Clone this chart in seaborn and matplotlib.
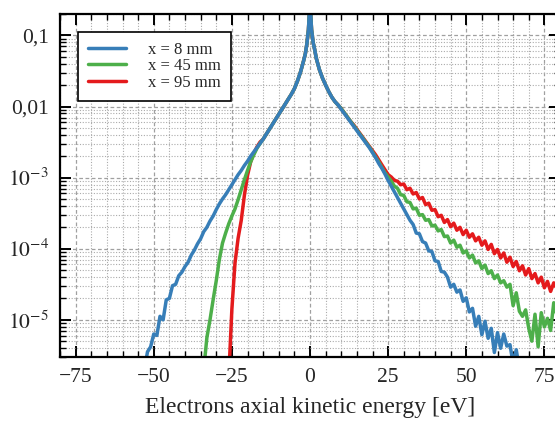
import matplotlib
matplotlib.use("Agg")
import matplotlib.pyplot as plt
from matplotlib.ticker import FixedLocator, FixedFormatter, MultipleLocator, LogLocator, NullFormatter
import numpy as np
import pandas as pd
import seaborn as sns

# Central part of the spectrum, common to the three positions
core_energy = list(range(-15, -2)) + [-2, -1.5, -1, -0.5, -0.25, 0, 0.25, 0.5, 1, 1.5, 2] + list(range(3, 10))
core_density = [3.47e-3, 4.07e-3, 4.79e-3, 5.62e-3, 6.61e-3, 7.76e-3, 9.12e-3, 1.07e-2, 1.26e-2,
                1.48e-2, 1.78e-2, 2.29e-2, 3.09e-2,
                4.47e-2, 5.50e-2, 7.59e-2, 0.120, 0.191, 0.50, 0.191, 0.120, 7.94e-2, 6.31e-2, 4.79e-2,
                3.31e-2, 2.51e-2, 2.00e-2, 1.62e-2, 1.35e-2, 1.17e-2, 1.05e-2]

# x = 8 mm
blue_left_energy = list(range(-53, -15))
blue_left = [2.00e-6, 3.55e-6, 4.17e-6, 6.31e-6, 6.03e-6, 1.12e-5, 1.00e-5, 1.91e-5, 2.00e-5, 3.02e-5,
             3.16e-5, 4.17e-5, 4.68e-5, 5.62e-5, 6.46e-5, 8.13e-5, 9.55e-5, 1.17e-4, 1.38e-4, 1.74e-4,
             2.00e-4, 2.45e-4, 2.88e-4, 3.55e-4, 4.27e-4, 5.01e-4, 5.75e-4, 6.76e-4, 7.94e-4, 9.33e-4,
             1.10e-3, 1.26e-3, 1.48e-3, 1.70e-3, 2.00e-3, 2.29e-3, 2.63e-3, 3.02e-3]
blue_right_energy = list(range(10, 69))
blue_right = [9.12e-3, 7.94e-3, 6.92e-3, 6.03e-3, 5.25e-3, 4.57e-3, 3.98e-3, 3.47e-3, 3.02e-3, 2.63e-3,
              2.24e-3, 1.91e-3, 1.58e-3, 1.35e-3, 1.12e-3, 9.12e-4, 7.59e-4, 6.31e-4, 5.25e-4, 4.37e-4,
              3.63e-4, 3.02e-4, 2.51e-4, 2.19e-4, 1.66e-4, 1.62e-4, 1.26e-4, 1.20e-4, 9.33e-5, 9.12e-5,
              6.76e-5, 6.61e-5, 4.79e-5, 4.68e-5, 3.98e-5, 2.88e-5, 3.16e-5, 2.45e-5, 2.63e-5, 1.82e-5,
              2.04e-5, 1.29e-5, 1.45e-5, 8.13e-6, 1.12e-5, 6.17e-6, 9.55e-6, 5.50e-6, 7.59e-6, 3.47e-6,
              6.61e-6, 3.98e-6, 6.31e-6, 4.27e-6, 4.47e-6, 2.40e-6, 3.80e-6, 2.00e-6, 1.50e-6]

# x = 45 mm
green_left_energy = list(range(-34, -15))
green_left = [2.00e-6, 5.62e-6, 1.00e-5, 1.91e-5, 3.55e-5, 7.08e-5, 1.20e-4, 1.66e-4, 2.24e-4, 2.88e-4,
              3.63e-4, 4.90e-4, 6.76e-4, 9.33e-4, 1.26e-3, 1.66e-3, 2.09e-3, 2.57e-3, 3.02e-3]
green_right_energy = list(range(10, 81))
green_right = [9.33e-3, 8.13e-3, 7.08e-3, 6.17e-3, 5.37e-3, 4.68e-3, 4.07e-3, 3.55e-3, 3.09e-3, 2.69e-3,
               2.29e-3, 1.95e-3, 1.66e-3, 1.38e-3, 1.17e-3, 1.02e-3, 8.91e-4, 7.59e-4, 7.08e-4, 5.75e-4,
               5.62e-4, 4.57e-4, 4.47e-4, 3.63e-4, 3.72e-4, 2.95e-4, 3.02e-4, 2.51e-4, 2.57e-4, 2.09e-4,
               2.14e-4, 1.78e-4, 1.86e-4, 1.48e-4, 1.51e-4, 1.20e-4, 1.32e-4, 1.05e-4, 1.12e-4, 8.71e-5,
               9.33e-5, 7.41e-5, 8.13e-5, 6.31e-5, 6.76e-5, 5.25e-5, 5.89e-5, 4.47e-5, 4.90e-5, 3.80e-5,
               4.27e-5, 3.31e-5, 3.55e-5, 2.88e-5, 3.16e-5, 1.58e-5, 2.40e-5, 1.32e-5, 1.12e-5, 1.38e-5,
               7.59e-6, 5.01e-6, 1.20e-5, 4.17e-6, 1.26e-5, 7.94e-6, 1.05e-5, 7.08e-6, 1.74e-5, 1.12e-5,
               1.51e-5]

# x = 95 mm
red_left_energy = list(range(-26, -15))
red_left = [1.58e-6, 1.41e-5, 6.31e-5, 1.41e-4, 2.51e-4, 5.62e-4, 1.07e-3, 1.66e-3, 2.19e-3, 2.69e-3,
            3.16e-3]
red_right_energy = list(range(10, 81))
red_right = [9.33e-3, 8.13e-3, 7.08e-3, 6.17e-3, 5.50e-3, 4.79e-3, 4.17e-3, 3.63e-3, 3.16e-3, 2.75e-3,
             2.40e-3, 2.09e-3, 1.78e-3, 1.51e-3, 1.29e-3, 1.10e-3, 1.02e-3, 9.12e-4, 8.91e-4, 7.94e-4,
             8.13e-4, 6.76e-4, 7.08e-4, 5.89e-4, 6.17e-4, 5.01e-4, 5.25e-4, 4.17e-4, 4.37e-4, 3.47e-4,
             3.55e-4, 2.82e-4, 2.95e-4, 2.34e-4, 2.57e-4, 2.04e-4, 2.29e-4, 1.82e-4, 2.00e-4, 1.58e-4,
             1.82e-4, 1.45e-4, 1.62e-4, 1.29e-4, 1.45e-4, 1.12e-4, 1.29e-4, 9.77e-5, 1.15e-4, 8.51e-5,
             9.77e-5, 7.41e-5, 8.71e-5, 6.46e-5, 7.59e-5, 5.62e-5, 6.61e-5, 4.90e-5, 5.75e-5, 4.27e-5,
             5.25e-5, 3.80e-5, 4.47e-5, 3.31e-5, 3.98e-5, 2.82e-5, 3.47e-5, 2.51e-5, 3.31e-5, 2.75e-5,
             3.39e-5]

series_labels = ["x = 8 mm", "x = 45 mm", "x = 95 mm"]
x_ticks = [-75, -50, -25, 0, 25, 50, 75]
y_tick_values = [1e-1, 1e-2, 1e-3, 1e-4, 1e-5]
y_tick_labels = ["0,1", "0,01", r"$10^{-3}$", r"$10^{-4}$", r"$10^{-5}$"]

frames = []
for label, le, lv, re, rv in [
    (series_labels[0], blue_left_energy, blue_left, blue_right_energy, blue_right),
    (series_labels[1], green_left_energy, green_left, green_right_energy, green_right),
    (series_labels[2], red_left_energy, red_left, red_right_energy, red_right),
]:
    frames.append(pd.DataFrame({
        "energy": le + core_energy + re,
        "density": lv + core_density + rv,
        "position": label,
    }))
df = pd.concat(frames, ignore_index=True)

sns.set_style("ticks")
plt.rcParams["font.family"] = ["Liberation Serif", "DejaVu Serif"]
plt.rcParams["mathtext.fontset"] = "stix"
plt.rcParams["axes.unicode_minus"] = True

set1 = sns.color_palette("Set1")
colors = {series_labels[0]: set1[1], series_labels[1]: set1[2], series_labels[2]: set1[0]}

fig = plt.figure(figsize=(5.55, 4.22), dpi=100)
ax = fig.add_axes([60 / 555, 65 / 422, 500 / 555, 343 / 422])

for label in [series_labels[2], series_labels[1], series_labels[0]]:
    sub = df[df["position"] == label]
    sns.lineplot(data=sub, x="energy", y="density", color=colors[label], lw=2.5,
                 estimator=None, sort=False, label=label, ax=ax)

ax.set_yscale("log")
ax.set_xlim(-80, 80)
ax.set_ylim(3e-6, 0.2)

ax.xaxis.set_major_locator(FixedLocator(x_ticks))
ax.xaxis.set_minor_locator(MultipleLocator(5))
ax.yaxis.set_major_locator(FixedLocator(y_tick_values))
ax.yaxis.set_major_formatter(FixedFormatter(y_tick_labels))
ax.yaxis.set_minor_locator(LogLocator(base=10, subs=np.arange(2, 10), numticks=50))
ax.yaxis.set_minor_formatter(NullFormatter())

ax.grid(which="major", color="#a0a0a0", linestyle=(0, (3, 2)), linewidth=0.9)
ax.grid(which="minor", color="#ababab", linestyle=(0, (1, 1.5)), linewidth=0.8)
ax.set_axisbelow(True)

ax.tick_params(which="both", direction="in", top=True, right=True, labelsize=15.5, color="black")
ax.tick_params(which="major", length=8, width=1.4, pad=8)
ax.tick_params(which="minor", length=4.5, width=1.0)
for s in ax.spines.values():
    s.set_linewidth(1.6)
    s.set_color("black")

ax.set_xlabel("Electrons axial kinetic energy [eV]", fontsize=17, labelpad=7)
ax.set_ylabel("")

handles, labels = ax.get_legend_handles_labels()
order = [labels.index(l) for l in series_labels]
leg = ax.legend([handles[i] for i in order], [labels[i] for i in order],
                loc="upper left", bbox_to_anchor=(18 / 500, 1 - 18 / 343), borderaxespad=0,
                fontsize=12, handlelength=2.3, handletextpad=1.3, labelspacing=0.02,
                borderpad=0.6, fancybox=False, framealpha=1, edgecolor="black")
leg.get_frame().set_linewidth(1.2)

fig.savefig("out.png", dpi=100)
